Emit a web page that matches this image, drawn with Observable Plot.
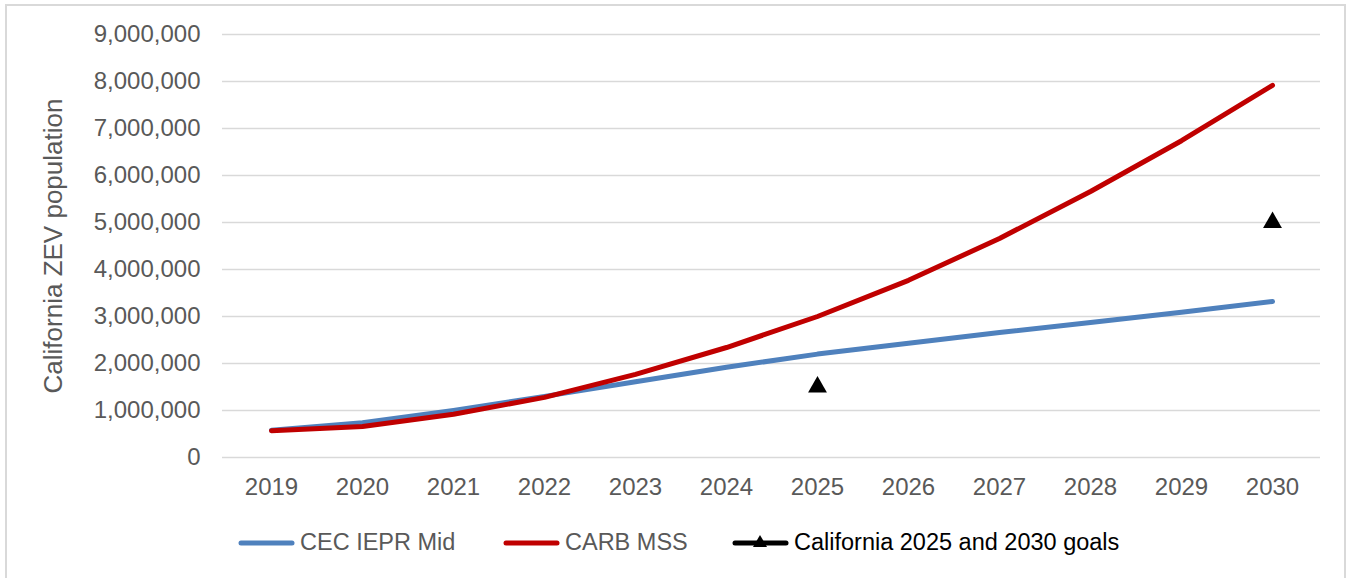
<!DOCTYPE html>
<html>
<head>
<meta charset="utf-8">
<script src="https://cdn.jsdelivr.net/npm/d3@7"></script>
<script src="https://cdn.jsdelivr.net/npm/@observablehq/plot@0.6"></script>
<style>
  html, body { margin: 0; padding: 0; background: #fff; }
  #wrap { position: relative; width: 1351px; height: 578px; overflow: hidden; font-family: "Liberation Sans", Arial, sans-serif; }
  #frame { position: absolute; left: 5px; top: 4px; width: 1341px; height: 600px; border: 2px solid #d9d9d9; box-sizing: border-box; pointer-events: none; }
  #chart { position: absolute; left: 0; top: 0; }
  .leg { position: absolute; top: 528px; display: flex; align-items: center; font-size: 23.5px; color: #595959; white-space: nowrap; }
  .leg svg { display: block; margin-right: 4px; }
</style>
</head>
<body>
<div id="wrap">
  <div id="chart"></div>
  <div id="legend"></div>
  <div id="frame"></div>
</div>
<script>
const years = ["2019","2020","2021","2022","2023","2024","2025","2026","2027","2028","2029","2030"];
const cecIeprMid = [580000, 740000, 1000000, 1300000, 1610000, 1920000, 2200000, 2430000, 2660000, 2870000, 3090000, 3320000];
const carbMss   = [570000, 660000, 920000, 1280000, 1770000, 2340000, 3000000, 3770000, 4660000, 5660000, 6740000, 7920000];
const goalYears = ["2025", "2030"];
const goalValues = [1500000, 5000000];
const yTicks = [0, 1000000, 2000000, 3000000, 4000000, 5000000, 6000000, 7000000, 8000000, 9000000];
const seriesNames = ["CEC IEPR Mid", "CARB MSS", "California 2025 and 2030 goals"];
const seriesColors = ["#4F81BD", "#C00000", "#000000"];

const cecData = years.map((y, i) => ({year: y, value: cecIeprMid[i]}));
const carbData = years.map((y, i) => ({year: y, value: carbMss[i]}));
const goalData = goalYears.map((y, i) => ({year: y, value: goalValues[i]}));

const plot = Plot.plot({
  width: 1351,
  height: 515,
  marginLeft: 222,
  marginRight: 31,
  marginTop: 34,
  marginBottom: 58,
  style: {fontFamily: '"Liberation Sans", Arial, sans-serif', background: "transparent", color: "#595959"},
  x: {type: "point", domain: years, padding: 0.5},
  y: {domain: [0, 9000000]},
  marks: [
    Plot.gridY(yTicks, {stroke: "#d9d9d9", strokeOpacity: 1, strokeWidth: 1.5}),
    Plot.axisY(yTicks, {tickFormat: d3.format(","), tickSize: 0, tickPadding: 22, fontSize: 24, fill: "#595959",
      label: "California ZEV population", labelAnchor: "center", labelOffset: 179, labelArrow: "none"}),
    Plot.axisX(years, {tickSize: 0, tickPadding: 20, fontSize: 24, fill: "#595959", label: null}),
    Plot.line(cecData, {x: "year", y: "value", stroke: seriesColors[0], strokeWidth: 5, strokeLinecap: "round", strokeLinejoin: "round"}),
    Plot.line(carbData, {x: "year", y: "value", stroke: seriesColors[1], strokeWidth: 5, strokeLinecap: "round", strokeLinejoin: "round"}),
    Plot.dot(goalData, {x: "year", y: "value", symbol: "triangle", r: 7, fill: seriesColors[2], stroke: "none"})
  ]
});
plot.querySelectorAll("[aria-label='y-axis label'] text, [aria-label='y-axis label']").forEach(e => { e.style.fontSize = "26px"; e.style.fill = "#595959"; });
document.getElementById("chart").appendChild(plot);

const legendLefts = [238, 503, 732];
const legend = document.getElementById("legend");
seriesNames.forEach((name, i) => {
  const item = document.createElement("div");
  item.className = "leg";
  item.style.left = legendLefts[i] + "px";
  if (i === 2) item.style.color = "#000";
  const tri = i === 2 ? `<path d="M28,7 L35,19 L21,19 Z" fill="#000"/>` : "";
  item.innerHTML = `<svg width="58" height="28"><line x1="3" y1="15" x2="54" y2="15" stroke="${seriesColors[i]}" stroke-width="5" stroke-linecap="round"/>${tri}</svg><span>${name}</span>`;
  legend.appendChild(item);
});
</script>
</body>
</html>
